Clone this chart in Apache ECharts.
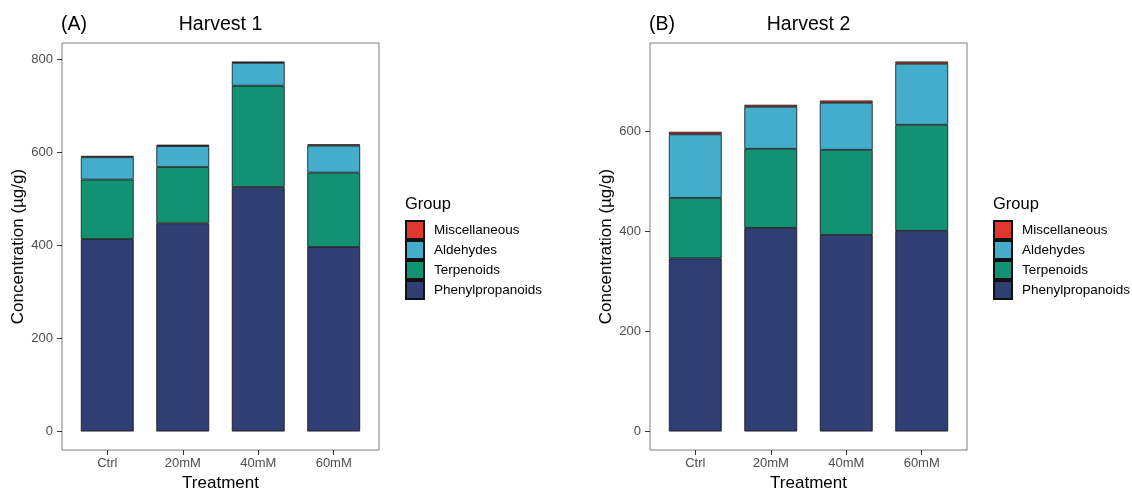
<!DOCTYPE html>
<html>
<head>
<meta charset="utf-8">
<title>Harvest concentrations by group</title>
<script src="https://cdn.jsdelivr.net/npm/echarts@6/dist/echarts.min.js"></script>
<style>
  html, body { margin: 0; padding: 0; background: #fff; }
  #chart { width: 1132px; height: 489px; }
</style>
</head>
<body>
<div id="chart"></div>
<script>
// Treatments on the x axis
const categories = ['Ctrl', '20mM', '40mM', '60mM'];
// Stack order, bottom to top
const groups = ['Phenylpropanoids', 'Terpenoids', 'Aldehydes', 'Miscellaneous'];
// Legend order, top to bottom
const legendOrder = ['Miscellaneous', 'Aldehydes', 'Terpenoids', 'Phenylpropanoids'];

// Harvest 1 concentrations (µg/g)
const h1Phenylpropanoids = [414, 448, 526, 397];
const h1Terpenoids = [128, 121, 218, 160];
const h1Aldehydes = [48, 45, 49, 58];
const h1Miscellaneous = [3, 3, 3, 3];

// Harvest 2 concentrations (µg/g)
const h2Phenylpropanoids = [346, 407, 393, 401];
const h2Terpenoids = [121, 158, 170, 212];
const h2Aldehydes = [127, 84, 94, 122];
const h2Miscellaneous = [5, 4, 4.5, 4.5];

// Y tick labels per panel
const yTicks1 = [0, 200, 400, 600, 800];
const yTicks2 = [0, 200, 400, 600];

const groupColors = {
  Miscellaneous: '#E0382E',
  Aldehydes: '#43ADCB',
  Terpenoids: '#139273',
  Phenylpropanoids: '#2F3F73'
};

const FONT = '"Liberation Sans", Arial, Helvetica, sans-serif';

const panels = [
  {
    tag: '(A)', title: 'Harvest 1', left: 62, width: 317, yTicks: yTicks1,
    values: [h1Phenylpropanoids, h1Terpenoids, h1Aldehydes, h1Miscellaneous],
    legendLeft: 405
  },
  {
    tag: '(B)', title: 'Harvest 2', left: 650, width: 317, yTicks: yTicks2,
    values: [h2Phenylpropanoids, h2Terpenoids, h2Aldehydes, h2Miscellaneous],
    legendLeft: 993
  }
];
const gridTop = 43;
const gridHeight = 407;

const grid = [], xAxis = [], yAxis = [], series = [], legend = [], title = [];

panels.forEach((p, i) => {
  // stacked totals set the y range, padded by 5% on each side
  const totals = categories.map((_, c) => p.values.reduce((s, arr) => s + arr[c], 0));
  const top = Math.max(...totals);
  const pad = top * 0.05;
  // the x range runs 0.6 of a category past the outer bars on each side
  const unit = p.width / (categories.length + 0.2);

  const frameIdx = grid.length;
  // panel frame with ticks, labels and axis titles
  grid.push({
    left: p.left, top: gridTop, width: p.width, height: gridHeight,
    outerBoundsMode: 'none', containLabel: false,
    show: true, borderColor: '#7a7a7a', borderWidth: 1, backgroundColor: 'transparent'
  });
  xAxis.push({
    type: 'value', gridIndex: frameIdx, min: 0.4, max: categories.length + 0.6,
    position: 'bottom',
    name: 'Treatment', nameLocation: 'middle', nameGap: 23,
    nameTextStyle: { fontFamily: FONT, fontSize: 17, color: '#000' },
    axisLine: { show: false, onZero: false },
    splitLine: { show: false },
    axisTick: { show: true, length: 5, lineStyle: { color: '#333' }, customValues: [1, 2, 3, 4] },
    axisLabel: {
      customValues: [1, 2, 3, 4], margin: 7,
      fontFamily: FONT, fontSize: 13, color: '#4d4d4d',
      formatter: v => categories[Math.round(v) - 1]
    }
  });
  yAxis.push({
    type: 'value', gridIndex: frameIdx, min: -pad, max: top + pad,
    position: 'left',
    name: 'Concentration (µg/g)', nameLocation: 'middle', nameGap: 35,
    nameTextStyle: { fontFamily: FONT, fontSize: 17, color: '#000' },
    axisLine: { show: false, onZero: false },
    splitLine: { show: false },
    axisTick: { show: true, length: 5, lineStyle: { color: '#333' }, customValues: p.yTicks },
    axisLabel: {
      customValues: p.yTicks, margin: 9,
      fontFamily: FONT, fontSize: 13, color: '#4d4d4d'
    }
  });

  const barIdx = grid.length;
  // bar area: one band per treatment, same value range as the frame
  grid.push({
    left: p.left + unit * 0.1, top: gridTop, width: unit * categories.length, height: gridHeight,
    outerBoundsMode: 'none', containLabel: false, show: false
  });
  xAxis.push({
    type: 'category', gridIndex: barIdx, data: categories, boundaryGap: true, show: false
  });
  yAxis.push({
    type: 'value', gridIndex: barIdx, min: -pad, max: top + pad, show: false,
    splitLine: { show: false }
  });

  groups.forEach((g, k) => {
    series.push({
      name: g, type: 'bar', xAxisIndex: barIdx, yAxisIndex: barIdx,
      stack: 'panel' + i, barWidth: '70%',
      itemStyle: { color: groupColors[g], borderColor: '#111', borderWidth: 0.8 },
      emphasis: { disabled: true },
      data: p.values[k]
    });
  });

  legend.push({
    orient: 'vertical', left: p.legendLeft, top: 220, padding: 0,
    data: legendOrder, icon: 'rect',
    itemWidth: 18, itemHeight: 18, itemGap: 0,
    selectedMode: false,
    textStyle: { fontFamily: FONT, fontSize: 13.5, color: '#000', padding: [0, 0, 0, 5], lineHeight: 18 }
  });

  title.push({
    text: 'Group', left: p.legendLeft, top: 196, padding: 0,
    textStyle: { fontFamily: FONT, fontSize: 16.5, fontWeight: 'normal', color: '#000' }
  });
  title.push({
    text: p.title, left: p.left + p.width / 2, top: 15, textAlign: 'center', padding: 0,
    textStyle: { fontFamily: FONT, fontSize: 19.5, fontWeight: 'normal', color: '#000' }
  });
  title.push({
    text: p.tag, left: p.left - 1, top: 15, padding: 0,
    textStyle: { fontFamily: FONT, fontSize: 19.5, fontWeight: 'normal', color: '#000' }
  });
});

const chart = echarts.init(document.getElementById('chart'), null, { renderer: 'canvas' });
chart.setOption({
  backgroundColor: '#fff',
  animation: false,
  title, grid, xAxis, yAxis, series, legend
});
</script>
</body>
</html>
